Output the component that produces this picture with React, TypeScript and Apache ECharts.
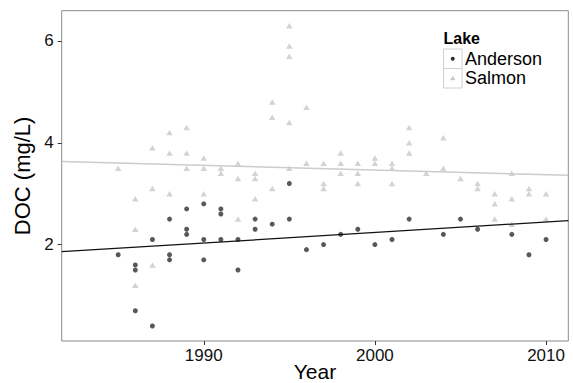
import React, { useEffect, useRef } from "react";
import * as echarts from "echarts";

// Years and DOC readings (mg/L) per lake, values grouped by year
const andersonYears = [1985, 1986, 1987, 1988, 1989, 1990, 1991, 1992, 1993, 1994, 1995, 1996, 1997, 1998, 1999, 2000, 2001, 2002, 2004, 2005, 2006, 2008, 2009, 2010];
const andersonDOC = [
  [1.8], [1.6, 1.5, 0.7], [2.1, 0.4], [2.5, 1.8, 1.7], [2.7, 2.3, 2.2], [2.8, 2.1, 1.7],
  [2.7, 2.6, 2.1], [2.1, 1.5], [2.5, 2.3], [2.4], [3.2, 2.5], [1.9], [2.0], [2.2], [2.3],
  [2.0], [2.1], [2.5], [2.2], [2.5], [2.3], [2.2], [1.8], [2.1],
];

const salmonYears = [1985, 1986, 1987, 1988, 1989, 1990, 1991, 1992, 1993, 1994, 1995, 1996, 1997, 1998, 1999, 2000, 2001, 2002, 2003, 2004, 2005, 2006, 2007, 2008, 2009, 2010];
const salmonDOC = [
  [3.5], [2.9, 2.3, 1.2], [3.9, 3.1, 1.6], [4.2, 3.8, 3.0], [4.3, 3.8, 3.5], [3.7, 3.5, 3.0],
  [3.5, 3.4], [3.6, 3.3, 2.5], [3.4, 3.3, 2.9], [4.8, 4.5, 3.1], [6.3, 5.9, 5.7, 4.4, 3.5],
  [4.7, 3.6], [3.6, 3.2, 3.1], [3.8, 3.6, 3.4], [3.6, 3.4, 3.2], [3.7, 3.6], [3.6, 3.5, 3.2],
  [4.3, 4.0, 3.8], [3.4], [4.1, 3.5], [3.3], [3.2, 3.1], [3.0, 2.8, 2.5], [3.4, 2.9, 2.4],
  [3.1, 3.0], [3.0, 2.5],
];

// Trend lines: value at the left and right panel edges
const andersonTrend = [1.86, 2.47];
const salmonTrend = [3.63, 3.36];

const lakeNames = ["Anderson", "Salmon"];
const xTicks = [1990, 2000, 2010];
const yTicks = [2, 4, 6];
const xRange = [1981.7, 2011.3];
const yRange = [0.105, 6.595];

const FONT = "'Liberation Sans', Arial, Helvetica, sans-serif";
const DARK = "#2e2e2e";
const LIGHT = "#c8c8c8";

function toPoints(years: number[], vals: number[][]): number[][] {
  const pts: number[][] = [];
  years.forEach((y, i) => vals[i].forEach((v) => pts.push([y, v])));
  return pts;
}

function trendPoints(ends: number[]): number[][] {
  return [
    [xRange[0], ends[0]],
    [xRange[1], ends[1]],
  ];
}

export default function App() {
  const ref = useRef<HTMLDivElement>(null);

  useEffect(() => {
    if (!ref.current) return;
    const chart = echarts.init(ref.current, null, { renderer: "svg" });
    const andersonPts = toPoints(andersonYears, andersonDOC);
    const salmonPts = toPoints(salmonYears, salmonDOC);

    const legendX = 443.5;
    const keyW = 18.5;
    const keyH = 19.5;
    const key1Y = 49;

    chart.setOption({
      animation: false,
      backgroundColor: "#ffffff",
      textStyle: { fontFamily: FONT },
      grid: {
        left: 61.7,
        right: 4.7,
        top: 10.7,
        bottom: 42,
        containLabel: false,
        outerBoundsMode: "none",
        show: true,
        borderColor: "#8a8a8a",
        borderWidth: 1,
        backgroundColor: "#ffffff",
      },
      xAxis: {
        type: "value",
        min: xRange[0],
        max: xRange[1],
        name: "Year",
        nameLocation: "middle",
        nameGap: 20,
        nameMoveOverlap: false,
        nameTextStyle: { fontSize: 21, color: "#000", fontFamily: FONT },
        axisLine: { show: false },
        splitLine: { show: false },
        axisTick: {
          show: true,
          length: 4,
          lineStyle: { color: "#333" },
          customValues: xTicks,
        },
        axisLabel: {
          fontSize: 17,
          color: "#111",
          margin: 6,
          fontFamily: FONT,
          customValues: xTicks,
          formatter: (v: number) => String(v),
        },
      },
      yAxis: {
        type: "value",
        min: yRange[0],
        max: yRange[1],
        name: "DOC (mg/L)",
        nameLocation: "middle",
        nameGap: 25,
        nameRotate: 90,
        nameTextStyle: { fontSize: 22, color: "#000", fontFamily: FONT },
        axisLine: { show: false },
        splitLine: { show: false },
        axisTick: {
          show: true,
          length: 4,
          lineStyle: { color: "#333" },
          customValues: yTicks,
        },
        axisLabel: {
          fontSize: 17,
          color: "#111",
          margin: 8,
          fontFamily: FONT,
          customValues: yTicks,
          formatter: (v: number) => String(v),
        },
      },
      series: [
        {
          name: lakeNames[1],
          type: "scatter",
          data: salmonPts,
          symbol: "triangle",
          symbolSize: [6.5, 5.5],
          itemStyle: { color: LIGHT },
          z: 2,
        },
        {
          name: lakeNames[0],
          type: "scatter",
          data: andersonPts,
          symbol: "circle",
          symbolSize: 5,
          itemStyle: { color: DARK },
          z: 3,
        },
        {
          name: lakeNames[1] + " trend",
          type: "line",
          data: trendPoints(salmonTrend),
          showSymbol: false,
          lineStyle: { color: "#cccccc", width: 1.5 },
          z: 4,
        },
        {
          name: lakeNames[0] + " trend",
          type: "line",
          data: trendPoints(andersonTrend),
          showSymbol: false,
          lineStyle: { color: "#111111", width: 1.2 },
          z: 5,
        },
      ],
      graphic: [
        {
          type: "text",
          left: legendX,
          top: 30,
          style: {
            text: "Lake",
            font: `bold 16px ${FONT}`,
            fill: "#000",
          },
        },
        {
          type: "rect",
          shape: { x: legendX, y: key1Y, width: keyW, height: keyH },
          style: { fill: "#fff", stroke: "#d0d0d0", lineWidth: 1 },
        },
        {
          type: "rect",
          shape: { x: legendX, y: key1Y + keyH, width: keyW, height: keyH },
          style: { fill: "#fff", stroke: "#d0d0d0", lineWidth: 1 },
        },
        {
          type: "circle",
          shape: { cx: legendX + keyW / 2, cy: key1Y + keyH / 2, r: 2 },
          style: { fill: DARK },
        },
        {
          type: "polygon",
          shape: {
            points: [
              [legendX + keyW / 2, key1Y + keyH * 1.5 - 2.5],
              [legendX + keyW / 2 + 2.8, key1Y + keyH * 1.5 + 2],
              [legendX + keyW / 2 - 2.8, key1Y + keyH * 1.5 + 2],
            ],
          },
          style: { fill: LIGHT },
        },
        {
          type: "text",
          x: legendX + keyW + 3,
          y: key1Y + keyH / 2,
          style: {
            text: lakeNames[0],
            font: `18px ${FONT}`,
            fill: "#000",
            verticalAlign: "middle",
          },
        },
        {
          type: "text",
          x: legendX + keyW + 3,
          y: key1Y + keyH * 1.5,
          style: {
            text: lakeNames[1],
            font: `18px ${FONT}`,
            fill: "#000",
            verticalAlign: "middle",
          },
        },
      ],
    });
    return () => chart.dispose();
  }, []);

  return (
    <div
      ref={ref}
      style={{ position: "fixed", left: 0, top: 0, width: 573, height: 383 }}
    />
  );
}
